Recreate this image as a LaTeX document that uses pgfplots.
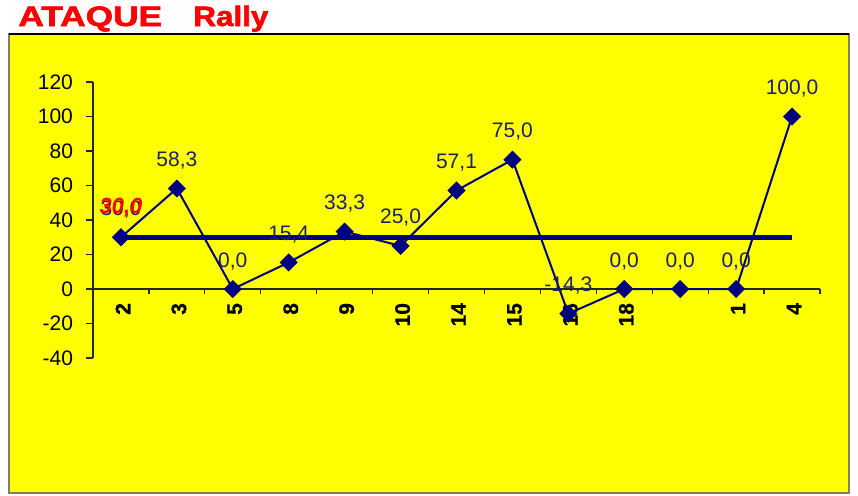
\documentclass[border=0pt]{standalone}
\usepackage{fontspec}
\setmainfont{Liberation Sans}
\usepackage{pgfplots}
\pgfplotsset{compat=1.18}
\definecolor{navyc}{RGB}{0,0,128}
\definecolor{labc}{RGB}{30,30,110}
\definecolor{bordc}{RGB}{128,128,96}
\definecolor{bgy}{RGB}{255,255,0}
\definecolor{titred}{RGB}{255,0,0}
\begin{document}
\begin{tikzpicture}
\useasboundingbox (0,0) rectangle (429pt,-247.5pt);
\fill[white] (0,0) rectangle (429pt,-247.5pt);
\fill[bgy] (4.25pt,-17pt) rectangle (424.5pt,-246.5pt);
\draw[bordc, line width=1pt] (4.25pt,-17pt) rectangle (424.5pt,-246.5pt);
\draw[black, line width=0.6pt] (4.25pt,-17pt) -- (424.5pt,-17pt);
\node[anchor=base west, inner sep=0pt, text=titred] at (9pt,-13pt) {\scalebox{1.26}[1]{\fontsize{14}{14}\selectfont\bfseries\addfontfeatures{FakeBold=2}ATAQUE}};
\node[anchor=base west, inner sep=0pt, text=titred] at (96.5pt,-13pt) {\scalebox{1.12}[1]{\fontsize{14}{14}\selectfont\bfseries\addfontfeatures{FakeBold=2}Rally}};
\begin{axis}[
  at={(46.5pt,-179pt)}, anchor=south west,
  scale only axis, width=363.5pt, height=138pt,
  xmin=-0.5, xmax=12.5, ymin=-40, ymax=120,
  axis y line*=left, axis x line*=middle,
  hide obscured x ticks=false, hide obscured y ticks=false,
  axis line style={line width=0.6pt, black!85},
  /pgf/number format/assume math mode=true,
  ytick={-40,-20,...,120},
  xtick={0,...,12},
  xticklabels={2,3,5,8,9,10,14,15,16,18,{},1,4},
  minor xtick={-0.5,0.5,...,12.5},
  major x tick style={draw=none},
  tick align=outside,
  major tick length=3.5pt, minor tick length=2.5pt,
  tick style={line width=0.6pt, black!85},
  yticklabel style={font=\fontsize{10.5}{11}\selectfont, xshift=-3pt},
  xticklabel style={rotate=90, anchor=east, font=\fontsize{10.5}{11}\selectfont\bfseries\addfontfeatures{FakeBold=0.8}, yshift=-1pt},
  clip=false,
]
\addplot[navyc, line width=2.3pt, mark=none] coordinates {(0,30) (12,30)};
\addplot[navyc, line width=1pt, mark=square*, mark size=2.7pt, mark options={rotate=45, solid},
  nodes near coords={\pgfmathprintnumber[fixed,fixed zerofill,precision=1,use comma]{\pgfplotspointmeta}},
  every node near coord/.append style={anchor=base, yshift=11pt, inner sep=0pt, text=labc, font=\fontsize{10.5}{11}\selectfont}]
  coordinates {(0,30) (1,58.3) (2,0) (3,15.4) (4,33.3) (5,25.0) (6,57.1) (7,75.0) (8,-14.3) (9,0) (10,0) (11,0) (12,100)};
\addplot[draw=none, mark=none,
  nodes near coords={\pgfmathprintnumber[fixed,fixed zerofill,precision=1,use comma]{\pgfplotspointmeta}},
  every node near coord/.append style={anchor=base, yshift=12pt, inner sep=0pt, text=red, font=\fontsize{11}{12}\selectfont\bfseries\itshape}]
  coordinates {(0,30)};
\end{axis}
\end{tikzpicture}
\end{document}
